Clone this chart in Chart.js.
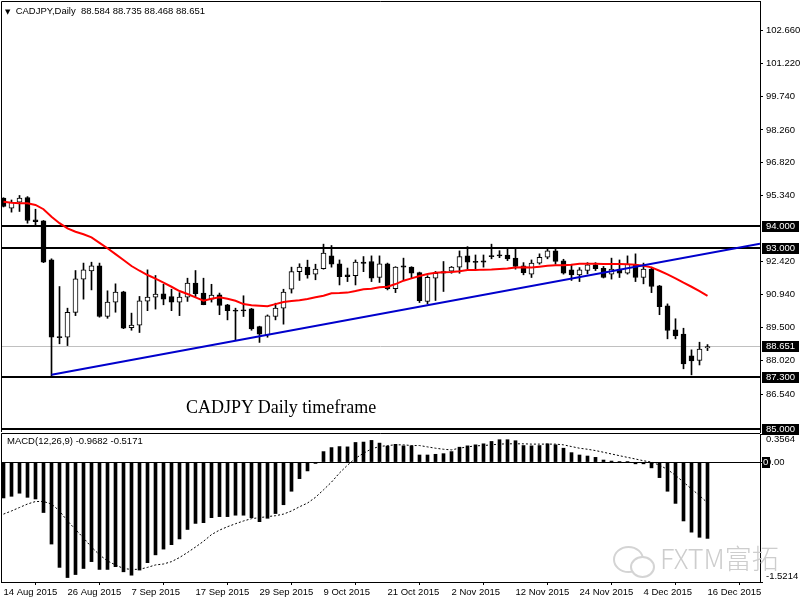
<!DOCTYPE html>
<html>
<head>
<meta charset="utf-8">
<script src="https://cdn.jsdelivr.net/npm/chart.js@4.4.1/dist/chart.umd.min.js"></script>
<style>
  body { margin: 0; background: #fff; }
  #wrap { position: relative; width: 800px; height: 600px; overflow: hidden; font-family: 'Liberation Sans', sans-serif; }
  canvas { position: absolute; left: 0; }
  #main { top: 0; z-index: 2; }
  #macd { top: 432px; z-index: 1; }
  .txt { position: absolute; white-space: nowrap; color: #000; line-height: 1; z-index: 3; }
</style>
</head>
<body>
<div id="wrap">
  <canvas id="main" width="800" height="440"></canvas>
  <canvas id="macd" width="800" height="168"></canvas>
  <div class="txt" style="left:5px;top:6px;font-size:9.5px;"><span style="font-family:'DejaVu Sans';font-size:7px">▼</span>&nbsp; CADJPY,Daily&nbsp; 88.584 88.735 88.468 88.651</div>
  <div class="txt" style="left:186px;top:398px;font-size:18px;line-height:18px;font-family:'Liberation Serif',serif;">CADJPY Daily timeframe</div>
  <div class="txt" style="left:7px;top:436px;font-size:9.5px;">MACD(12,26,9) -0.9682 -0.5171</div>
  <div style="position:absolute;z-index:3;left:613px;top:546px;width:27px;height:23px;border:2px solid #d4d4d4;border-radius:50%;"></div>
  <div style="position:absolute;z-index:3;left:630px;top:556px;width:21px;height:18px;border:2px solid #d4d4d4;border-radius:50%;background:#fff;"></div>
  <div class="txt" style="left:660px;top:544px;font-size:27px;color:#cdcdcd;font-family:'Noto Sans CJK SC',sans-serif;font-weight:300;">FXTM富拓</div>
</div>
<script>
// CADJPY daily, 14 Aug 2015 - 16 Dec 2015
const dateLabels = ['14 Aug 2015', '26 Aug 2015', '7 Sep 2015', '17 Sep 2015', '29 Sep 2015', '9 Oct 2015',
  '21 Oct 2015', '2 Nov 2015', '12 Nov 2015', '24 Nov 2015', '4 Dec 2015', '16 Dec 2015'];
const labelBars = [0, 8, 16, 24, 32, 40, 48, 56, 64, 72, 80, 88];

const opens = [95.23,94.79,95.05,95.26,94.27,94.22,92.49,89.09,89.06,90.16,
  91.64,92.00,92.23,89.98,90.62,91.07,89.49,89.60,90.66,90.84,
  90.99,90.86,90.62,90.84,91.46,91.02,90.75,90.94,90.50,90.24,
  90.25,90.32,89.53,89.16,89.98,90.35,91.19,91.97,92.17,91.86,
  92.10,92.67,92.32,91.83,91.79,92.39,92.42,91.71,92.32,91.21,
  92.23,92.17,91.93,90.65,91.68,91.97,91.99,92.17,92.67,92.40,
  92.45,92.67,92.71,92.71,92.57,92.23,91.86,92.35,92.61,92.89,
  92.45,92.05,91.83,92.02,92.27,92.12,91.86,92.08,91.90,92.30,
  91.71,92.08,91.34,90.45,89.39,89.20,88.23,88.03,88.584];
const highs = [95.25,95.15,95.35,95.30,94.74,94.24,92.54,91.31,90.35,92.02,
  92.35,92.39,92.35,91.12,91.43,91.10,90.13,90.87,92.05,91.80,
  91.41,91.19,91.04,91.68,92.02,91.68,91.41,91.02,90.52,90.35,
  90.90,90.34,89.55,90.05,90.57,91.19,92.17,92.32,92.48,92.30,
  93.19,93.13,92.49,92.13,92.49,92.64,92.67,92.67,92.35,92.19,
  92.57,92.19,91.95,91.79,91.98,92.42,92.20,92.89,93.08,92.71,
  92.71,93.19,92.90,92.97,92.97,92.37,92.49,92.76,92.98,93.05,
  92.52,92.30,92.15,92.37,92.37,92.20,92.57,92.49,92.67,92.76,
  92.35,92.17,91.36,90.54,89.88,89.46,88.50,88.84,88.735];
const lows = [94.84,94.61,94.64,94.12,94.04,92.37,87.35,88.77,88.69,90.02,
  90.75,91.16,89.95,89.90,90.17,89.44,89.37,89.27,90.24,90.31,
  90.50,90.24,90.02,90.65,90.82,90.50,90.62,90.06,89.83,88.92,
  89.98,89.37,88.83,89.06,89.83,89.64,91.02,91.58,91.68,91.61,
  92.08,92.17,91.38,91.53,91.38,91.97,91.53,91.49,91.16,91.04,
  91.61,91.68,90.60,90.54,90.69,91.09,91.90,91.90,92.10,92.10,
  92.17,92.54,92.59,92.46,92.08,91.83,91.71,92.30,92.54,92.30,
  91.86,91.58,91.53,91.87,92.02,91.69,91.64,91.71,91.86,91.53,
  91.43,91.04,90.06,88.99,88.99,87.66,87.39,87.83,88.468];
const closes = [94.86,95.05,95.23,94.24,94.19,92.39,89.06,89.04,90.17,91.65,
  92.05,92.23,89.98,90.62,91.06,89.46,89.60,90.68,90.84,90.97,
  90.75,90.62,90.84,91.46,90.99,90.51,90.93,90.47,90.24,90.22,
  90.23,89.43,89.20,90.01,90.35,91.06,91.97,92.17,91.83,92.08,
  92.79,92.30,91.75,91.75,92.39,92.34,91.68,92.32,91.21,92.17,
  92.17,91.90,90.68,91.72,91.90,91.90,92.17,92.64,92.39,92.38,
  92.39,92.64,92.67,92.54,92.20,91.93,92.35,92.61,92.89,92.42,
  91.90,91.83,92.05,92.27,92.10,91.71,92.08,91.90,92.30,91.71,
  92.08,91.31,90.42,89.36,89.12,87.88,88.01,88.54,88.651];
const movingAvg = [95.07,95.03,95.00,95.00,94.93,94.74,94.41,94.12,93.89,93.74,
  93.63,93.49,93.25,93.01,92.75,92.49,92.22,92.01,91.82,91.66,
  91.48,91.30,91.11,90.98,90.83,90.68,90.77,90.83,90.77,90.68,
  90.53,90.48,90.46,90.44,90.53,90.62,90.67,90.70,90.76,90.83,
  90.90,91.01,91.02,91.04,91.11,91.19,91.21,91.28,91.30,91.42,
  91.57,91.67,91.78,91.87,91.92,91.94,91.95,91.99,92.04,92.04,
  92.06,92.07,92.09,92.11,92.15,92.16,92.15,92.19,92.23,92.25,
  92.25,92.28,92.32,92.32,92.32,92.31,92.31,92.31,92.30,92.28,
  92.23,92.16,92.01,91.85,91.67,91.48,91.30,91.11,90.90];

const macdHist = [-0.455,-0.434,-0.395,-0.447,-0.468,-0.64,-1.04,-1.336,-1.465,-1.427,
  -1.35,-1.263,-1.362,-1.362,-1.327,-1.392,-1.435,-1.37,-1.276,-1.177,
  -1.104,-1.048,-0.975,-0.855,-0.778,-0.769,-0.705,-0.692,-0.692,-0.674,
  -0.674,-0.705,-0.756,-0.713,-0.653,-0.541,-0.37,-0.21,-0.112,-0.017,
  0.133,0.184,0.197,0.193,0.249,0.254,0.275,0.241,0.202,0.225,
  0.206,0.206,0.09,0.09,0.099,0.107,0.133,0.189,0.206,0.219,
  0.232,0.262,0.284,0.284,0.271,0.21,0.206,0.21,0.232,0.219,
  0.176,0.12,0.09,0.077,0.06,0.026,0.013,0.005,0.002,-0.022,
  -0.022,-0.073,-0.197,-0.37,-0.524,-0.747,-0.889,-0.954,-0.9682];
const macdSignal = [-0.66,-0.62,-0.576,-0.532,-0.50,-0.50,-0.532,-0.62,-0.747,-0.855,
  -0.963,-1.078,-1.177,-1.254,-1.305,-1.35,-1.362,-1.36,-1.336,-1.305,
  -1.293,-1.263,-1.211,-1.147,-1.078,-1.005,-0.92,-0.863,-0.82,-0.782,
  -0.747,-0.718,-0.705,-0.692,-0.68,-0.66,-0.62,-0.567,-0.52,-0.447,
  -0.352,-0.254,-0.138,-0.039,0.048,0.112,0.168,0.197,0.21,0.219,
  0.219,0.21,0.21,0.193,0.176,0.163,0.155,0.176,0.193,0.206,
  0.21,0.219,0.228,0.232,0.232,0.232,0.228,0.228,0.228,0.228,
  0.219,0.197,0.176,0.163,0.146,0.125,0.103,0.081,0.06,0.039,
  0.017,0,-0.039,-0.094,-0.168,-0.254,-0.34,-0.425,-0.5171];

const priceTicks = [102.66, 101.22, 99.74, 98.26, 96.82, 95.34, 92.42, 90.94, 89.5, 88.02, 86.54];
const levels = [94, 93, 87.3, 85];
const trendX = [6, 94.5625];
const trendY = [87.40, 93.21];
const macdTicks = [0.3564, 0, -1.5214];

const FONT = "'Liberation Sans', sans-serif";
const FSIZE = 9.5;
const bidPrice = closes[closes.length - 1];
const X_MIN = -0.3125, X_MAX = 94.5625;

Chart.defaults.animation = false;
Chart.defaults.events = [];
Chart.defaults.plugins.legend.display = false;
Chart.defaults.plugins.tooltip.enabled = false;

// largura fixa do eixo e sem o recuo automatico dos rotulos
function fixBox(s, w, h) {
    if (w) s.width = w;
    if (h) s.height = h;
    s.paddingTop = 0;
    s.paddingBottom = 0;
    s.paddingLeft = 0;
    s.paddingRight = 0;
}

function hLine(ctx, a, py, color, width) {
    ctx.strokeStyle = color;
    ctx.lineWidth = width;
    ctx.beginPath();
    ctx.moveTo(a.left, py);
    ctx.lineTo(a.right, py);
    ctx.stroke();
}

function axisTag(ctx, text, py) {
    ctx.fillStyle = '#000';
    ctx.fillRect(762, Math.round(py) - 5, 37, 11);
    ctx.fillStyle = '#fff';
    ctx.font = FSIZE + 'px ' + FONT;
    ctx.textBaseline = 'middle';
    ctx.textAlign = 'left';
    ctx.fillText(text, 766, Math.round(py) + 0.5);
}

// niveis horizontais, linha do bid e moldura do painel principal
const mainExtras = {
    id: 'mainExtras',
    beforeDatasetsDraw(chart) {
        const { ctx, chartArea: a, scales: { y } } = chart;
        ctx.save();
        hLine(ctx, a, Math.round(y.getPixelForValue(bidPrice)) + 0.5, '#c0c0c0', 1);
        levels.forEach(v => hLine(ctx, a, Math.round(y.getPixelForValue(v)), '#000', 2));
        ctx.restore();
    },
    afterDraw(chart) {
        const { ctx, chartArea: a, scales: { y } } = chart;
        ctx.save();
        ctx.strokeStyle = '#000';
        ctx.lineWidth = 1;
        ctx.beginPath();
        ctx.moveTo(a.left + 0.5, a.bottom);
        ctx.lineTo(a.left + 0.5, a.top + 0.5);
        ctx.lineTo(a.right, a.top + 0.5);
        ctx.stroke();
        levels.forEach(v => axisTag(ctx, v.toFixed(3), y.getPixelForValue(v)));
        axisTag(ctx, bidPrice.toFixed(3), y.getPixelForValue(bidPrice));
        ctx.restore();
    }
};

const macdExtras = {
    id: 'macdExtras',
    afterDraw(chart) {
        const { ctx, chartArea: a, scales: { y } } = chart;
        ctx.save();
        ctx.strokeStyle = '#000';
        ctx.lineWidth = 1;
        ctx.beginPath();
        ctx.moveTo(a.left + 0.5, a.bottom);
        ctx.lineTo(a.left + 0.5, a.top - 0.5);
        ctx.lineTo(a.right, a.top - 0.5);
        ctx.stroke();
        const py = Math.round(y.getPixelForValue(0));
        ctx.fillStyle = '#000';
        ctx.fillRect(762, py - 5, 8, 11);
        ctx.fillStyle = '#fff';
        ctx.font = FSIZE + 'px ' + FONT;
        ctx.textBaseline = 'middle';
        ctx.textAlign = 'left';
        ctx.fillText('0', 763, py + 0.5);
        ctx.restore();
    }
};

const bars = closes.map((c, i) => i);

new Chart(document.getElementById('main'), {
    type: 'bar',
    data: {
        datasets: [
            {
                type: 'line',
                data: trendX.map((x, i) => ({ x: x, y: trendY[i] })),
                borderColor: '#0000cc',
                borderWidth: 2,
                pointRadius: 0,
                order: -2
            },
            {
                type: 'line',
                data: movingAvg.map((v, i) => ({ x: i, y: v })),
                borderColor: '#ff0000',
                borderWidth: 2,
                pointRadius: 0,
                tension: 0,
                order: -1
            },
            {
                data: bars.map(i => ({ x: i, y: [opens[i], closes[i]] })),
                backgroundColor: bars.map(i => closes[i] >= opens[i] ? '#ffffff' : '#000000'),
                borderColor: '#000',
                borderWidth: 1,
                borderSkipped: false,
                barThickness: 5,
                minBarLength: 1,
                grouped: false,
                order: 0
            },
            {
                data: bars.map(i => ({ x: i, y: [lows[i], highs[i]] })),
                backgroundColor: '#000',
                borderWidth: 0,
                barThickness: 1,
                grouped: false,
                order: 1
            }
        ]
    },
    options: {
        responsive: false,
        layout: { autoPadding: false, padding: { left: 1, top: 1, right: 0, bottom: 8 } },
        scales: {
            x: { type: 'linear', display: false, min: X_MIN, max: X_MAX, offset: false },
            y: {
                position: 'right',
                min: 84.856,
                max: 103.978,
                border: { display: true, color: '#000', width: 1 },
                grid: { drawOnChartArea: false, tickLength: 3, tickColor: '#000' },
                ticks: { color: '#000', font: { family: FONT, size: FSIZE }, padding: 3, callback: v => v.toFixed(3) },
                afterBuildTicks: s => { s.ticks = priceTicks.map(v => ({ value: v })); },
                afterFit: s => fixBox(s, 40, 0)
            }
        }
    },
    plugins: [mainExtras]
});

new Chart(document.getElementById('macd'), {
    type: 'bar',
    data: {
        datasets: [
            {
                type: 'line',
                data: macdSignal.map((v, i) => ({ x: i, y: v })),
                borderColor: '#000',
                borderWidth: 1,
                borderDash: [2, 2],
                pointRadius: 0,
                order: -1
            },
            {
                data: macdHist.map((v, i) => ({ x: i, y: v })),
                backgroundColor: '#000',
                borderWidth: 0,
                barThickness: 3,
                order: 0
            }
        ]
    },
    options: {
        responsive: false,
        layout: { autoPadding: false, padding: { left: 1, top: 2, right: 0, bottom: 0 } },
        scales: {
            x: {
                type: 'linear',
                min: X_MIN,
                max: X_MAX,
                offset: false,
                border: { display: true, color: '#000', width: 1 },
                grid: { drawOnChartArea: false, tickLength: 3, tickColor: '#000' },
                ticks: {
                    color: '#000', font: { family: FONT, size: FSIZE }, padding: 2,
                    align: 'start', maxRotation: 0, autoSkip: false,
                    callback: v => dateLabels[labelBars.indexOf(v)] ?? ''
                },
                afterBuildTicks: s => { s.ticks = labelBars.map(v => ({ value: v })); },
                afterFit: s => fixBox(s, 0, 18)
            },
            y: {
                position: 'right',
                min: macdTicks[2],
                max: macdTicks[0],
                border: { display: true, color: '#000', width: 1 },
                grid: {
                    drawOnChartArea: true, tickLength: 3, tickColor: '#000',
                    color: c => (c.tick && c.tick.value === 0) ? '#000' : 'rgba(0,0,0,0)'
                },
                ticks: {
                    color: '#000', font: { family: FONT, size: FSIZE }, padding: 3,
                    callback: v => v === macdTicks[0] ? ['', '0.3564'] : v === macdTicks[2] ? ['-1.5214', ''] : '0.00'
                },
                afterBuildTicks: s => { s.ticks = macdTicks.map(v => ({ value: v })); },
                afterFit: s => fixBox(s, 40, 0)
            }
        }
    },
    plugins: [macdExtras]
});
</script>
</body>
</html>
